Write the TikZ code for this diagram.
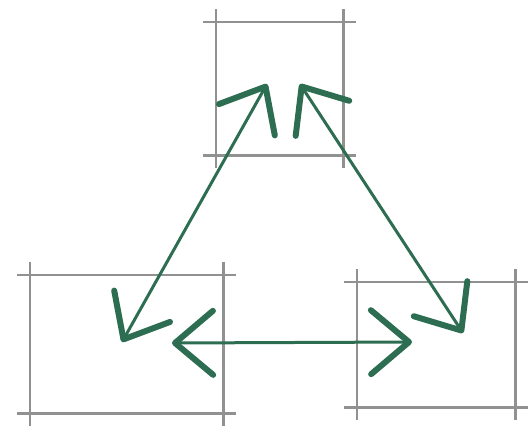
\documentclass[tikz,border=0pt]{standalone}
\usepackage{tikz}
\usetikzlibrary{arrows.meta, positioning}
\usepackage{xcolor}
\definecolor{sketchgreen}{RGB}{45, 110, 82}
\definecolor{pencilgray}{RGB}{145, 145, 145}

\begin{document}
\begin{tikzpicture}[
    x=1pt, y=-1pt,
    frame/.style={rectangle, inner sep=0pt, draw=none},
    pencil/.style={draw=pencilgray, line width=2.6pt,
                   shorten <=-13pt, shorten >=-13pt},
    arrow/.style={{Straight Barb[length=38pt, width=64pt, line width=6pt, round]}-{Straight Barb[length=38pt, width=64pt, line width=6pt, round]},
                  line width=3pt, color=sketchgreen}
  ]
    \useasboundingbox (0,0) rectangle (529,432);
    % Top box
    \node[frame, minimum width=127pt, minimum height=133pt] (top) at (279.5,88.5) {};
    % Left box
    \node[frame, minimum width=193pt, minimum height=138pt] (lft) at (126.5,344) {};
    % Right box
    \node[frame, minimum width=158pt, minimum height=125pt] (rgt) at (436,344.5) {};

    % Sketch lines
    \foreach \b in {top, lft, rgt} {
      \draw[pencil] (\b.north west) -- (\b.north east);
      \draw[pencil] (\b.south west) -- (\b.south east);
      \draw[pencil] (\b.north west) -- (\b.south west);
      \draw[pencil] (\b.north east) -- (\b.south east);
    }

    % Arrow ends
    \coordinate (t1) at (267,84);
    \coordinate (t2) at (300,84);
    \coordinate (l1) at (122,342);
    \coordinate (l2) at (172,343);
    \coordinate (r1) at (412,342);
    \coordinate (r2) at (463,333);

    % Arrows
    \draw[arrow] (t1) -- (l1);
    \draw[arrow] (t2) -- (r2);
    \draw[arrow] (l2) -- (r1);
\end{tikzpicture}
\end{document}
